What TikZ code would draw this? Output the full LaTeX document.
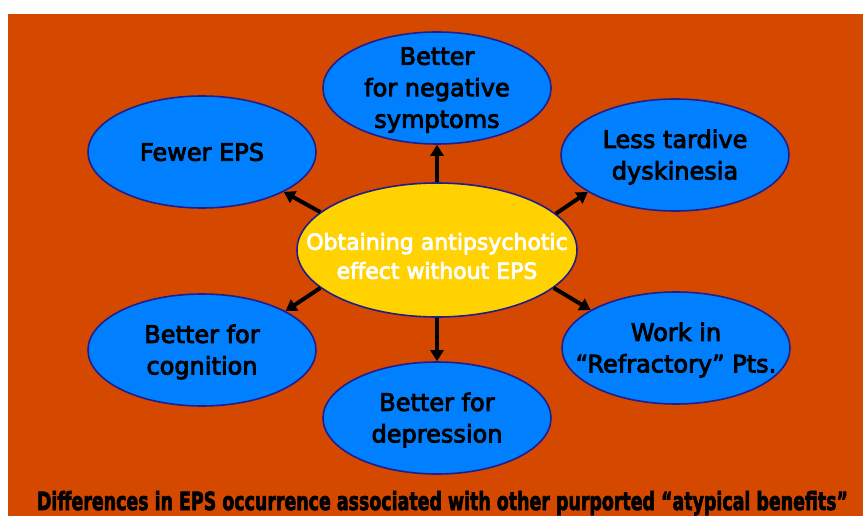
\documentclass[tikz,border=0pt]{standalone}
\usepackage{fontspec}
\setmainfont{DejaVu Sans}
\newfontfamily\blobfont{DejaVu Sans}[FakeBold=3.5]
\newfontfamily\hubfont{DejaVu Sans}[FakeBold=3.5]
\newfontfamily\capfont{DejaVu Sans}[BoldFeatures={FakeBold=3}]
\usetikzlibrary{shapes.geometric,arrows.meta}
\definecolor{bgorange}{RGB}{213,72,0}
\definecolor{blobblue}{RGB}{0,128,255}
\definecolor{hubyellow}{RGB}{255,210,0}
\definecolor{rimnavy}{RGB}{30,30,140}
\tikzset{
  blob/.style={ellipse, draw=rimnavy, line width=1.6pt, fill=blobblue,
    minimum width=228pt, minimum height=112pt, inner sep=0pt},
  hub/.style={ellipse, draw=rimnavy, line width=1.6pt, fill=hubyellow,
    minimum width=280pt, minimum height=134pt, inner sep=0pt},
  blobtext/.style={font=\blobfont\fontsize{24}{31.5}\selectfont, align=center, text=black},
  hubtext/.style={font=\hubfont\fontsize{22}{29}\selectfont, align=center, text=white},
  arr/.style={line width=4pt, -{Triangle[length=11pt,width=13pt]}, black}
}
\begin{document}
\begin{tikzpicture}[x=1pt,y=-1pt]
\useasboundingbox (0,0) rectangle (863,516);
\fill[white] (0,0) rectangle (863,516);
\fill[bgorange] (8,14) rectangle (863,516);

% hub in the middle
\node[hub] (hub) at (437,250) {};
\node[hubtext] (hubt) at (437,256) {Obtaining antipsychotic\\effect without EPS};

% six surrounding claims
\node[blob] (neg) at (437,88) {};
\node[blobtext] (negt) at (437,90) {Better\\for negative\\symptoms};

\node[blob] (eps) at (202,152) {};
\node[blobtext] (epst) at (202,152) {Fewer EPS};

\node[blob] (td) at (675,155) {};
\node[blobtext] (tdt) at (675,157) {Less tardive\\dyskinesia};

\node[blob] (cog) at (202,350) {};
\node[blobtext] (cogt) at (202,352) {Better for\\cognition};

\node[blob] (ref) at (676,348) {};
\node[blobtext] (reft) at (676,350) {Work in\\“Refractory” Pts.};

\node[blob] (dep) at (437,418) {};
\node[blobtext] (dept) at (437,420) {Better for\\depression};

% arrows from the hub outwards
\draw[arr] (hub.90) -- (neg.-90);
\draw[arr] (hub.-90) -- (dep.90);
\draw[arr] (hub.162) -- (eps.-26);
\draw[arr] (hub.17) -- (td.-157);
\draw[arr] (hub.-162) -- (cog.25);
\draw[arr] (hub.-18) -- (ref.156);

% caption along the bottom
\node[anchor=base] (cap) at (442.5,510)
  {\resizebox{811pt}{19pt}{\capfont\bfseries Differences in EPS occurrence associated with other purported “atypical benefits”}};
\end{tikzpicture}
\end{document}
